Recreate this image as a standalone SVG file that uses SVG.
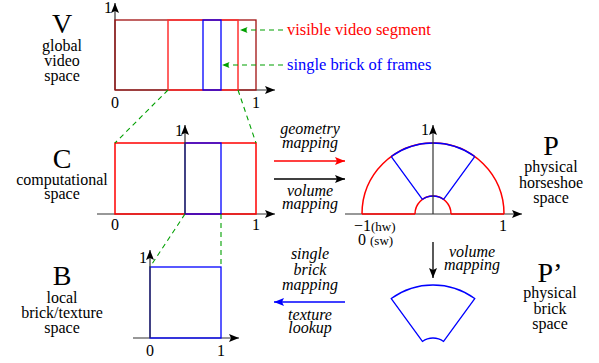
<svg xmlns="http://www.w3.org/2000/svg" width="599" height="363" viewBox="0 0 599 363" font-family="'Liberation Serif', 'Times New Roman', Times, serif">
<defs>
<marker id="ak" viewBox="0 0 10 8" refX="10" refY="4" markerWidth="10" markerHeight="8" markerUnits="userSpaceOnUse" orient="auto"><path d="M0,0 L10,4 L0,8 L2,4 Z" fill="#000"/></marker>
<marker id="ar" viewBox="0 0 10 8" refX="10" refY="4" markerWidth="11" markerHeight="8" markerUnits="userSpaceOnUse" orient="auto"><path d="M0,0 L10,4 L0,8 L2,4 Z" fill="#ff0000"/></marker>
<marker id="ab" viewBox="0 0 10 8" refX="10" refY="4" markerWidth="11" markerHeight="8" markerUnits="userSpaceOnUse" orient="auto"><path d="M0,0 L10,4 L0,8 L2,4 Z" fill="#0000ff"/></marker>
<marker id="ag" viewBox="0 0 10 8" refX="10" refY="4" markerWidth="9" markerHeight="6" markerUnits="userSpaceOnUse" orient="auto"><path d="M0,0 L10,4 L0,8 L2,4 Z" fill="#00a000"/></marker>
</defs>
<style>
text{font-family:'Liberation Serif','Times New Roman',Times,serif;font-size:16px;fill:#000}
.big{font-size:28px}
.it{font-style:italic}
.sm{font-size:13px}
.mid{text-anchor:middle}
.ax{stroke:#333;stroke-width:1.2;fill:none;marker-end:url(#ak)}
.red{stroke:#ff0000;stroke-width:1.5;fill:none}
.blue{stroke:#0000ff;stroke-width:1.3;fill:none}
.gd{stroke:#00a000;stroke-width:1.1;stroke-dasharray:5,4;fill:none}
.tr{fill:#ff0000;font-size:16.5px}
.tb{fill:#0000ff;font-size:16.5px}
</style>

<g id="V">
<text class="big mid" x="62" y="33">V</text>
<text class="mid" x="62" y="51">global</text>
<text class="mid" x="62" y="66">video</text>
<text class="mid" x="62" y="81">space</text>
<line class="ax" x1="115" y1="90" x2="115" y2="3"/>
<line class="ax" x1="115" y1="90" x2="275" y2="90"/>
<rect x="115" y="20" width="141" height="70" fill="none" stroke="#a01010" stroke-width="1.3"/>
<rect x="168" y="20" width="70" height="70" fill="none" stroke="#ff3030" stroke-width="1.5"/>
<rect x="203" y="20" width="18" height="70" fill="none" stroke="#0000ff" stroke-width="1.3"/>
<text class="mid" x="108" y="13">1</text>
<text class="mid" x="115" y="108">0</text>
<text class="mid" x="256" y="108">1</text>
<text class="tr" x="287" y="35">visible video segment</text>
<text class="tb" x="287" y="70">single brick of frames</text>
</g>

<g id="C">
<text class="big mid" x="62" y="168">C</text>
<text class="mid" x="62" y="185">computational</text>
<text class="mid" x="62" y="199">space</text>
<line class="ax" x1="97" y1="214" x2="275" y2="214"/>
<rect class="red" x="115" y="143" width="141" height="71"/>
<rect class="blue" x="185" y="143" width="36" height="71"/>
<line class="ax" x1="185" y1="214" x2="185" y2="125"/>
<text class="mid" x="179" y="136">1</text>
<text class="mid" x="115" y="230">0</text>
<text class="mid" x="256" y="230">1</text>
</g>

<g id="B">
<text class="big mid" x="62" y="285">B</text>
<text class="mid" x="62" y="303">local</text>
<text class="mid" x="62" y="318">brick/texture</text>
<text class="mid" x="62" y="333">space</text>
<line class="ax" x1="133" y1="338" x2="239" y2="338"/>
<rect class="blue" x="150" y="267" width="71" height="71"/>
<line class="ax" x1="150" y1="338" x2="150" y2="250"/>
<text class="mid" x="143" y="263">1</text>
<text class="mid" x="150" y="356">0</text>
<text class="mid" x="221" y="356">1</text>
</g>

<g id="P">
<text class="big mid" x="551" y="155">P</text>
<text class="mid" x="551" y="172">physical</text>
<text class="mid" x="551" y="188">horseshoe</text>
<text class="mid" x="551" y="203">space</text>
<line class="ax" x1="345" y1="214" x2="522" y2="214"/>
<path class="red" d="M362,214 A71,71 0 0 1 504,214 M415,214 A18,18 0 0 1 451,214 M362,214 H415 M451,214 H504"/>
<path class="blue" d="M391.27,156.56 A71,71 0 0 1 474.73,156.56 M422.42,199.44 A18,18 0 0 1 443.58,199.44 M391.27,156.56 L422.42,199.44 M474.73,156.56 L443.58,199.44"/>
<line class="ax" x1="433" y1="214" x2="433" y2="125"/>
<text class="mid" x="425" y="135">1</text>
<text x="354" y="231">−1<tspan class="sm">(hw)</tspan></text>
<text x="358" y="245">0 <tspan class="sm">(sw)</tspan></text>
<text class="mid" x="503" y="231">1</text>
</g>

<g id="Pp">
<text class="big mid" x="550" y="282">P’</text>
<text class="mid" x="550" y="298">physical</text>
<text class="mid" x="550" y="314">brick</text>
<text class="mid" x="550" y="329">space</text>
<path class="blue" d="M391.27,298.56 A71,71 0 0 1 474.73,298.56 L443.58,341.44 A18,18 0 0 0 422.42,341.44 Z"/>
</g>

<g id="connectors">
<line class="gd" x1="283" y1="30" x2="240" y2="30" marker-end="url(#ag)"/>
<line class="gd" x1="283" y1="65" x2="222" y2="65" marker-end="url(#ag)"/>
<line class="gd" x1="168" y1="90" x2="115" y2="143"/>
<line class="gd" x1="238" y1="90" x2="256" y2="143"/>
<line class="gd" x1="185" y1="214" x2="150" y2="267"/>
<line class="gd" x1="221" y1="214" x2="221" y2="267"/>
<line x1="274" y1="161" x2="345" y2="161" stroke="#ff0000" stroke-width="1.3" marker-end="url(#ar)"/>
<line x1="274" y1="179" x2="345" y2="179" stroke="#000" stroke-width="1.3" marker-end="url(#ak)"/>
<line x1="345" y1="302" x2="274" y2="302" stroke="#0000ff" stroke-width="1.3" marker-end="url(#ab)"/>
<line x1="433" y1="242" x2="433" y2="278" stroke="#000" stroke-width="1.3" marker-end="url(#ak)"/>
<text class="it mid" x="310" y="134">geometry</text>
<text class="it mid" x="310" y="148">mapping</text>
<text class="it mid" x="310" y="196">volume</text>
<text class="it mid" x="310" y="209">mapping</text>
<text class="it mid" x="472" y="257">volume</text>
<text class="it mid" x="472" y="270">mapping</text>
<text class="it mid" x="310" y="259">single</text>
<text class="it mid" x="310" y="275">brick</text>
<text class="it mid" x="310" y="290">mapping</text>
<text class="it mid" x="310" y="320">texture</text>
<text class="it mid" x="310" y="333">lookup</text>
</g>
</svg>
